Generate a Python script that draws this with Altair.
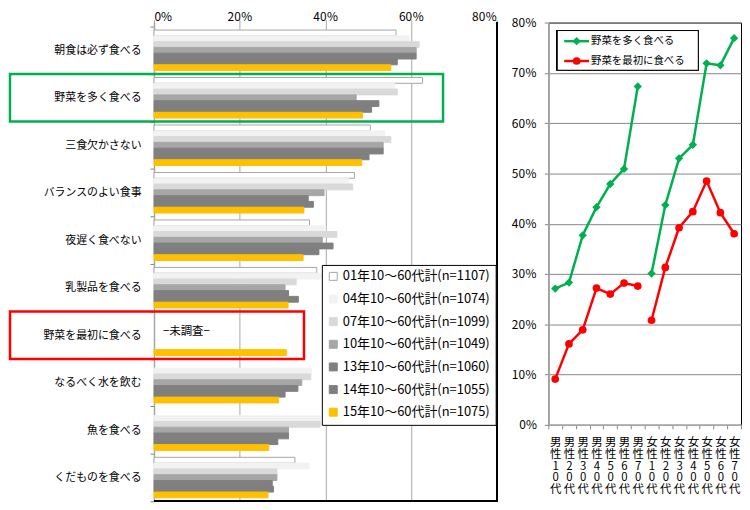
import altair as alt
import pandas as pd

FONT = "Noto Sans CJK JP"

# ---------------- left chart data ----------------
categories = ['朝食は必ず食べる', '野菜を多く食べる', '三食欠かさない', 'バランスのよい食事',
              '夜遅く食べない', '乳製品を食べる', '野菜を最初に食べる', 'なるべく水を飲む',
              '魚を食べる', 'くだものを食べる']
series_names = ['01年10～60代計(n=1107)', '04年10～60代計(n=1074)', '07年10～60代計(n=1099)',
                '10年10～60代計(n=1049)', '13年10～60代計(n=1060)', '14年10～60代計(n=1055)',
                '15年10～60代計(n=1075)']
s01 = [56.5, 62.7, 50.5, 46.8, 36.3, 38.0, None, None, None, 32.9]
s04 = [59.6, 56.2, 53.8, 45.5, 40.1, 39.0, None, 36.8, 38.9, 36.2]
s07 = [61.9, 56.8, 55.3, 46.4, 42.7, 33.2, None, 36.6, 38.8, 28.7]
s10 = [61.2, 47.2, 53.5, 39.7, 39.3, 30.6, None, 34.5, 31.4, 28.7]
s13 = [61.2, 52.5, 53.5, 36.0, 41.8, 31.4, None, 33.6, 31.4, 27.6]
s14 = [56.8, 50.8, 50.2, 37.2, 38.5, 33.7, None, 30.6, 28.9, 27.9]
s15 = [55.3, 48.7, 48.5, 35.0, 34.8, 31.3, 30.9, 29.1, 26.8, 26.6]
series_values = [s01, s04, s07, s10, s13, s14, s15]
series_fill = ['#ffffff', '#f2f2f2', '#d9d9d9', '#a6a6a6', '#808080', '#7f7f7f', '#ffc000']
series_stroke = ['#a6a6a6', '#f2f2f2', '#d9d9d9', '#a6a6a6', '#808080', '#7f7f7f', '#ffc000']
x_ticks = [0, 20, 40, 60, 80]
note_label = '−未調査−'
note_category = '野菜を最初に食べる'
green_category = '野菜を多く食べる'
red_category = '野菜を最初に食べる'

# ---------------- right chart data ----------------
age_cats = ['男性10代', '男性20代', '男性30代', '男性40代', '男性50代', '男性60代', '男性70代',
            '女性10代', '女性20代', '女性30代', '女性40代', '女性50代', '女性60代', '女性70代']
veg_many = [27.1, 28.3, 37.7, 43.3, 47.9, 50.9, 67.3, 30.1, 43.7, 53.0, 55.7, 71.9, 71.5, 76.9]
veg_first = [9.1, 16.1, 18.9, 27.2, 26.0, 28.2, 27.6, 20.8, 31.3, 39.2, 42.4, 48.5, 42.2, 38.0]
line_names = ['野菜を多く食べる', '野菜を最初に食べる']
line_colors = ['#00b050', '#ff0000']
line_shapes = ['diamond', 'circle']
y_ticks = [0, 10, 20, 30, 40, 50, 60, 70, 80]

# ---------------- tables ----------------
rows = []
for name, vals in zip(series_names, series_values):
    for c, v in zip(categories, vals):
        if v is not None:
            rows.append({'cat': c, 'series': name, 'value': v})
bar_df = pd.DataFrame(rows)
note_df = pd.DataFrame({'cat': [note_category], 'label': [note_label], 'value': [0]})

lrows = []
for name, vals in zip(line_names, [veg_many, veg_first]):
    for c, v in zip(age_cats, vals):
        lrows.append({'cat': c, 'name': name, 'gender': c[0], 'value': v})
line_df = pd.DataFrame(lrows)

# ---------------- left chart ----------------
W1, H1 = 345, 482
x_scale = alt.Scale(domain=[0, 80], nice=False)
y_scale = alt.Scale(domain=categories, paddingInner=0, paddingOuter=0.042, align=1)
pct_expr = "datum.value == 0 ? '0%' : datum.value + '％'"
x_axis = alt.Axis(orient='top', values=x_ticks, labelExpr=pct_expr, grid=True, gridColor='#a6a6a6',
                  domain=False, tickColor='#a6a6a6', tickSize=3, labelPadding=-4, labelFontSize=12,
                  title=None)
y_axis = alt.Axis(title=None, tickBand='extent', tickColor='#7f7f7f', tickSize=4,
                  domainColor='#a6a6a6', domainWidth=1.5, labelPadding=9, labelFontSize=11)

legend1 = alt.Legend(title=None, orient='none', legendX=169, legendY=244, direction='vertical',
                     symbolType='square', symbolSize=64, symbolStrokeWidth=1, labelFontSize=13,
                     rowPadding=8.8, padding=5, strokeColor='black', fillColor='white',
                     labelOffset=3, labelLimit=400)

bars = alt.Chart(bar_df).mark_bar(strokeWidth=1).encode(
    x=alt.X('value:Q', scale=x_scale, axis=x_axis),
    y=alt.Y('cat:N', scale=y_scale, axis=y_axis),
    yOffset=alt.YOffset('series:N', scale=alt.Scale(domain=series_names, paddingInner=0, paddingOuter=0.6)),
    fill=alt.Fill('series:N', scale=alt.Scale(domain=series_names, range=series_fill), legend=legend1),
    stroke=alt.Stroke('series:N', scale=alt.Scale(domain=series_names, range=series_stroke), legend=legend1),
)

border_right = alt.Chart(bar_df).mark_rule(color='black', strokeWidth=1).encode(
    x=alt.value(W1), y=alt.value(0), y2=alt.value(H1))
border_bottom = alt.Chart(bar_df).mark_rule(color='black', strokeWidth=1).encode(
    x=alt.value(0), x2=alt.value(W1), y=alt.value(H1))

note = alt.Chart(note_df).mark_text(align='left', dx=9, dy=-3, fontSize=11.5, font=FONT, color='black').encode(
    x=alt.X('value:Q', scale=x_scale, axis=x_axis),
    y=alt.Y('cat:N', scale=y_scale, axis=y_axis),
    text='label:N',
)

green_box = alt.Chart(pd.DataFrame({'cat': [green_category]})).mark_rect(
    fill='transparent', stroke='#00b050', strokeWidth=2.5).encode(
    y=alt.Y('cat:N', scale=y_scale, axis=y_axis), x=alt.value(-145), x2=alt.value(291))
red_box = alt.Chart(pd.DataFrame({'cat': [red_category]})).mark_rect(
    fill='transparent', stroke='#ff0000', strokeWidth=2.5).encode(
    y=alt.Y('cat:N', scale=y_scale, axis=y_axis), x=alt.value(-145), x2=alt.value(151))

left = alt.layer(bars, border_right, border_bottom, note, green_box, red_box).properties(
    width=W1, height=H1, view=alt.ViewBackground(stroke='transparent'))

# ---------------- right chart ----------------
W2, H2 = 194, 405
rx_scale = alt.Scale(domain=age_cats, type='band', paddingInner=0, paddingOuter=0)
ry_scale = alt.Scale(domain=[0, 80], nice=False)
rx_axis = alt.Axis(title=None, labelAngle=0, labelExpr="split(datum.label, '')", labelBaseline='top',
                   labelLineHeight=11.8, labelFontSize=11.5, tickBand='extent', tickSize=4,
                   tickColor='#868686', domainColor='#a6a6a6', domainWidth=1.5, labelPadding=8)
ry_axis = alt.Axis(title=None, values=y_ticks, labelExpr=pct_expr, grid=True, gridColor='#868686',
                   tickSize=4, tickColor='#868686', domainColor='#a6a6a6', domainWidth=1.5,
                   labelPadding=8, labelFontSize=12)

rx = alt.X('cat:N', scale=rx_scale, axis=rx_axis)
ry = alt.Y('value:Q', scale=ry_scale, axis=ry_axis)
rcolor = alt.Color('name:N', scale=alt.Scale(domain=line_names, range=line_colors), legend=None)

lines = alt.Chart(line_df).mark_line(strokeWidth=2.5).encode(x=rx, y=ry, color=rcolor, detail='gender:N')
pts_green = alt.Chart(line_df).transform_filter(alt.datum.name == line_names[0]).mark_point(
    shape=line_shapes[0], filled=True, size=70, opacity=1).encode(x=rx, y=ry, color=rcolor)
pts_red = alt.Chart(line_df).transform_filter(alt.datum.name == line_names[1]).mark_point(
    shape=line_shapes[1], filled=True, size=60, opacity=1).encode(x=rx, y=ry, color=rcolor)

# legend box drawn inside the plot (Excel style: line + marker + label)
leg_box = alt.Chart(line_df).mark_rect(fill='white', stroke='black', strokeWidth=1).encode(
    x=alt.value(9), x2=alt.value(151), y=alt.value(8), y2=alt.value(48))
leg_layers = [leg_box]
for i, (nm, col, shp, sz) in enumerate(zip(line_names, line_colors, line_shapes, [70, 60])):
    ly = 18.7 + 20 * i
    item = pd.DataFrame({'name': [nm]})
    leg_layers.append(alt.Chart(item).mark_rule(color=col, strokeWidth=2.5).encode(
        x=alt.value(16), x2=alt.value(41), y=alt.value(ly)))
    leg_layers.append(alt.Chart(item).mark_point(shape=shp, filled=True, size=sz, opacity=1, color=col).encode(
        x=alt.value(28.5), y=alt.value(ly)))
    leg_layers.append(alt.Chart(item).mark_text(align='left', baseline='middle', fontSize=10.5, font=FONT,
                                                color='black').encode(
        x=alt.value(43), y=alt.value(ly), text='name:N'))

right = alt.layer(lines, pts_green, pts_red, *leg_layers).properties(
    width=W2, height=H2, view=alt.ViewBackground(stroke='black', strokeWidth=1))

chart = alt.hconcat(left, right, spacing=52, bounds='flush').resolve_scale(
    fill='independent', stroke='independent', color='independent'
).resolve_legend(
    fill='independent', stroke='independent', color='independent'
).properties(padding=0, background='white').configure(font=FONT).configure_axis(
    labelFont=FONT, labelColor='black').configure_legend(labelFont=FONT, labelColor='black')

chart.save("out.html", embed_options={"renderer": "svg", "actions": False})
